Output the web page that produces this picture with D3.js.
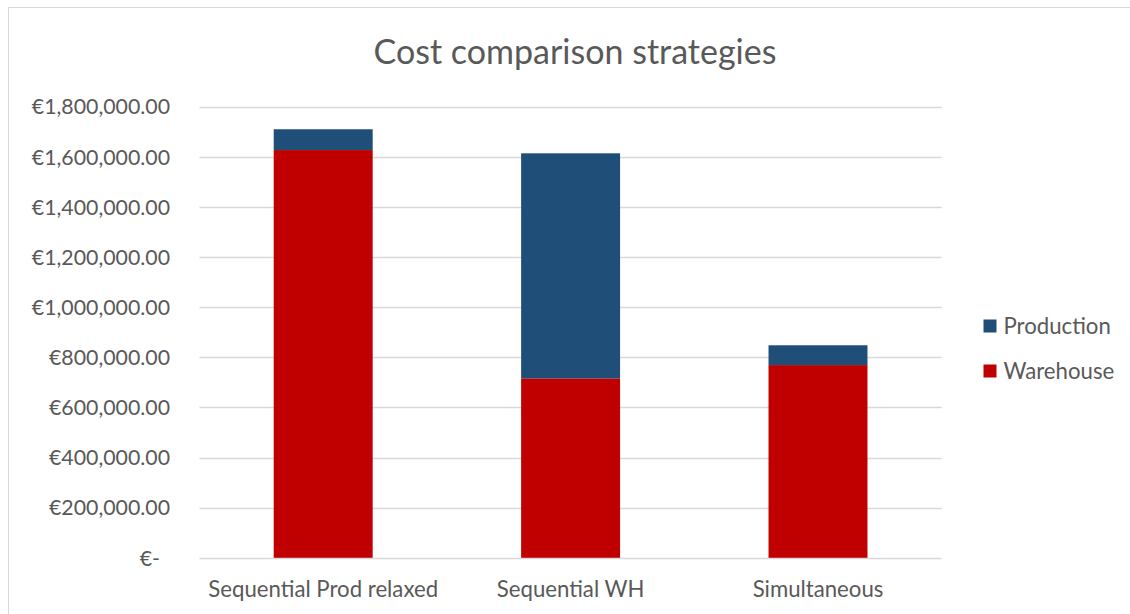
<!DOCTYPE html>
<html>
<head>
<meta charset="utf-8">
<script src="https://cdn.jsdelivr.net/npm/d3@7"></script>
<style>
  html, body { margin: 0; padding: 0; background: #fff; }
  svg { display: block; font-family: Lato, "Open Sans", sans-serif; }
</style>
</head>
<body>
<svg id="chart" width="1130" height="614"></svg>
<script>
// Stacked cost per planning strategy (EUR)
const categories = ["Sequential Prod relaxed", "Sequential WH", "Simultaneous"];
const warehouse = [1627000, 716000, 769000];
const production = [83000, 898000, 79000];
const seriesNames = ["Warehouse", "Production"];
const seriesColors = ["#C00000", "#1F4E79"];
const yTicks = [0, 200000, 400000, 600000, 800000, 1000000, 1200000, 1400000, 1600000, 1800000];

const svg = d3.select("#chart");
const W = 1130, H = 614;
const margin = { left: 199.5, right: W - 941.7, top: 106.7, bottom: H - 557.8 };

// chart frame
svg.append("rect")
  .attr("x", 8.5).attr("y", 7.5)
  .attr("width", W + 10).attr("height", H + 10)
  .attr("fill", "#fff").attr("stroke", "#D9D9D9").attr("stroke-width", 1);

const rows = categories.map((c, i) => ({ category: c, Warehouse: warehouse[i], Production: production[i] }));
const stacked = d3.stack().keys(seriesNames)(rows);

const x = d3.scaleBand()
  .domain(categories)
  .range([margin.left, W - margin.right])
  .paddingInner(0.6)
  .paddingOuter(0.3);

const y = d3.scaleLinear()
  .domain([0, 1800000])
  .range([H - margin.bottom, margin.top]);

// gridlines
svg.append("g")
  .selectAll("line")
  .data(yTicks)
  .join("line")
  .attr("x1", margin.left).attr("x2", W - margin.right)
  .attr("y1", d => Math.round(y(d)) + 0.5).attr("y2", d => Math.round(y(d)) + 0.5)
  .attr("stroke", "#D9D9D9").attr("stroke-width", 1.3);

// y axis labels
const fmt = d3.format(",.2f");
const yAxis = d3.axisLeft(y)
  .tickValues(yTicks)
  .tickSize(0)
  .tickPadding(0)
  .tickFormat(d => d === 0 ? "€-" : "€" + fmt(d));
const gy = svg.append("g")
  .attr("transform", `translate(170,0)`)
  .call(yAxis);
gy.select(".domain").remove();
gy.selectAll("text")
  .attr("fill", "#595959")
  .style("font-size", "21.3px")
  .style("font-family", "Lato, sans-serif")
  .attr("dx", d => d === 0 ? -10 : 0)
  .attr("dy", "0.34em");

// stacked bars
svg.append("g")
  .selectAll("g")
  .data(stacked)
  .join("g")
  .attr("fill", (d, i) => seriesColors[i])
  .selectAll("rect")
  .data(d => d)
  .join("rect")
  .attr("x", d => x(d.data.category))
  .attr("width", x.bandwidth())
  .attr("y", d => y(d[1]))
  .attr("height", d => y(d[0]) - y(d[1]));

// category axis labels
const xAxis = d3.axisBottom(x).tickSize(0).tickPadding(0);
const gx = svg.append("g")
  .attr("transform", `translate(0,${H - margin.bottom})`)
  .call(xAxis);
gx.select(".domain").remove();
gx.selectAll("text")
  .attr("fill", "#595959")
  .attr("y", 0)
  .attr("dy", 39.5)
  .style("font-size", "22.2px")
  .style("font-family", "Lato, sans-serif");

// title
svg.append("text")
  .attr("x", 575).attr("y", 63.5)
  .attr("text-anchor", "middle")
  .attr("fill", "#595959")
  .style("font-size", "34px")
  .text("Cost comparison strategies");

// legend (Production listed first)
const legendItems = [
  { name: "Production", color: seriesColors[1], cy: 326 },
  { name: "Warehouse", color: seriesColors[0], cy: 371 }
];
const lg = svg.append("g").selectAll("g").data(legendItems).join("g");
lg.append("rect")
  .attr("x", 983.5).attr("y", d => d.cy - 6.5)
  .attr("width", 13).attr("height", 13)
  .attr("fill", d => d.color);
lg.append("text")
  .attr("x", 1003.5).attr("y", d => d.cy)
  .attr("dy", "0.35em")
  .attr("fill", "#595959")
  .style("font-size", "22.2px")
  .text(d => d.name);
</script>
</body>
</html>
